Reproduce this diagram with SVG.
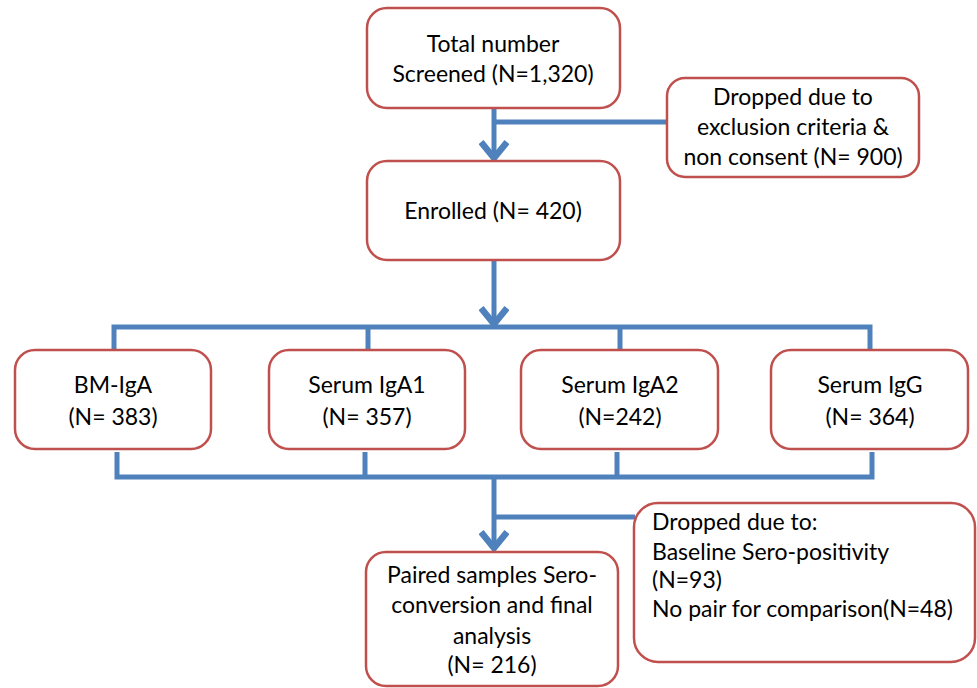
<svg xmlns="http://www.w3.org/2000/svg" width="977" height="688" viewBox="0 0 977 688">
<style>
.box{fill:#fff;stroke:#C0504D;stroke-width:2.5}
.c{fill:none;stroke:#4F81BD;stroke-width:5}
text{font-family:Lato,"Liberation Sans",sans-serif;font-size:23px;fill:#000}
.m{text-anchor:middle}
</style>
<defs>
<marker id="arr" viewBox="0 0 30 30" refX="25" refY="15" markerWidth="30" markerHeight="30" markerUnits="userSpaceOnUse" orient="auto">
<path d="M9,2 L25,15 L9,28" fill="none" stroke="#4F81BD" stroke-width="6.5"/>
</marker>
</defs>
<rect width="977" height="688" fill="#fff"/>
<g id="connectors">
<path class="c" d="M494,108 V158" marker-end="url(#arr)"/>
<path class="c" d="M494,122 H667"/>
<path class="c" d="M494,260 V324" marker-end="url(#arr)"/>
<path class="c" d="M114,350 V327 H870 V350"/>
<path class="c" d="M368,327 V350"/>
<path class="c" d="M620,327 V350"/>
<path class="c" d="M117,452 V477 H872 V452"/>
<path class="c" d="M365,452 V477"/>
<path class="c" d="M617,452 V477"/>
<path class="c" d="M494,477 V548" marker-end="url(#arr)"/>
<path class="c" d="M494,517 H635"/>
</g>
<g id="screened">
<rect class="box" x="367" y="8" width="253" height="100" rx="20"/>
<text class="m" x="493" y="52">Total number</text>
<text class="m" x="493" y="82">Screened (N=1,320)</text>
</g>
<g id="dropped1">
<rect class="box" x="667" y="78" width="252" height="99" rx="18"/>
<text class="m" x="793" y="105">Dropped due to</text>
<text class="m" x="793" y="135">exclusion criteria &amp;</text>
<text class="m" x="793" y="165">non consent (N= 900)</text>
</g>
<g id="enrolled">
<rect class="box" x="367" y="161" width="253" height="99" rx="20"/>
<text class="m" x="493" y="219">Enrolled (N= 420)</text>
</g>
<g id="bmiga">
<rect class="box" x="15" y="350" width="196" height="99" rx="20"/>
<text class="m" x="113" y="393">BM-IgA</text>
<text class="m" x="113" y="425">(N= 383)</text>
</g>
<g id="iga1">
<rect class="box" x="269" y="350" width="196" height="99" rx="20"/>
<text class="m" x="367" y="393">Serum IgA1</text>
<text class="m" x="367" y="425">(N= 357)</text>
</g>
<g id="iga2">
<rect class="box" x="521" y="350" width="197" height="99" rx="20"/>
<text class="m" x="620" y="393">Serum IgA2</text>
<text class="m" x="620" y="425">(N=242)</text>
</g>
<g id="igg">
<rect class="box" x="771" y="350" width="197" height="99" rx="20"/>
<text class="m" x="870" y="393">Serum IgG</text>
<text class="m" x="870" y="425">(N= 364)</text>
</g>
<g id="final">
<rect class="box" x="366" y="552" width="252" height="134" rx="20"/>
<text class="m" x="492" y="583">Paired samples Sero-</text>
<text class="m" x="492" y="613">conversion and final</text>
<text class="m" x="492" y="644">analysis</text>
<text class="m" x="492" y="673">(N= 216)</text>
</g>
<g id="dropped2">
<rect class="box" x="634" y="503" width="341" height="159" rx="24"/>
<text x="652" y="530">Dropped due to:</text>
<text x="652" y="560">Baseline Sero-positivity</text>
<text x="652" y="588">(N=93)</text>
<text x="652" y="617">No pair for comparison(N=48)</text>
</g>
</svg>
